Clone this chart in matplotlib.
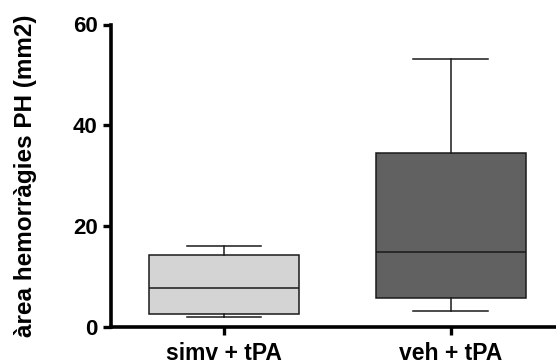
import matplotlib
matplotlib.use("Agg")
import matplotlib.pyplot as plt

plt.rcParams['font.family'] = ['Liberation Sans', 'DejaVu Sans']
plt.rcParams['font.weight'] = 'bold'

# Box-plot summaries (mm2)
groups = ["simv + tPA", "veh + tPA"]
whisker_low = [2.0, 3.1]
q1 = [2.6, 5.7]
median = [7.7, 14.9]
q3 = [14.2, 34.4]
whisker_high = [16.1, 53.1]
fill_colors = ["#d4d4d4", "#616161"]
y_ticks = [0, 20, 40, 60]

stats = []
for i, name in enumerate(groups):
    stats.append(dict(label=name, whislo=whisker_low[i], q1=q1[i], med=median[i],
                      q3=q3[i], whishi=whisker_high[i], fliers=[]))

fig = plt.figure(figsize=(5.56, 3.61), dpi=100)
ax = fig.add_axes([111 / 556, 34.3 / 361, 1 - 111 / 556, (326.7 - 24.5) / 361])

positions = [1, 2]
bp = ax.bxp(stats, positions=positions, widths=0.66, capwidths=0.33,
            patch_artist=True, showfliers=False,
            boxprops=dict(linewidth=1.1, edgecolor="#1a1a1a"),
            medianprops=dict(color="#1a1a1a", linewidth=1.1),
            whiskerprops=dict(color="#1a1a1a", linewidth=1.1),
            capprops=dict(color="#1a1a1a", linewidth=1.1))
for patch, c in zip(bp['boxes'], fill_colors):
    patch.set_facecolor(c)

ax.set_xlim(0.502, 2.463)
ax.set_ylim(0, 60)
ax.set_yticks(y_ticks)
ax.set_yticklabels([str(v) for v in y_ticks], fontsize=16, fontweight='bold')
ax.set_xticks(positions)
ax.set_xticklabels(groups, fontsize=16.5, fontweight='bold')

for side in ['top', 'right']:
    ax.spines[side].set_visible(False)
for side in ['left', 'bottom']:
    ax.spines[side].set_linewidth(2.6)
    ax.spines[side].set_capstyle('projecting')

ax.tick_params(axis='y', length=6, width=2.4, pad=3.5)
ax.tick_params(axis='x', length=6, width=2.4, pad=5)

ax.set_ylabel("àrea hemorràgies PH (mm2)", fontsize=17.5, fontweight='bold', labelpad=26)

fig.savefig("out.png", dpi=100)
